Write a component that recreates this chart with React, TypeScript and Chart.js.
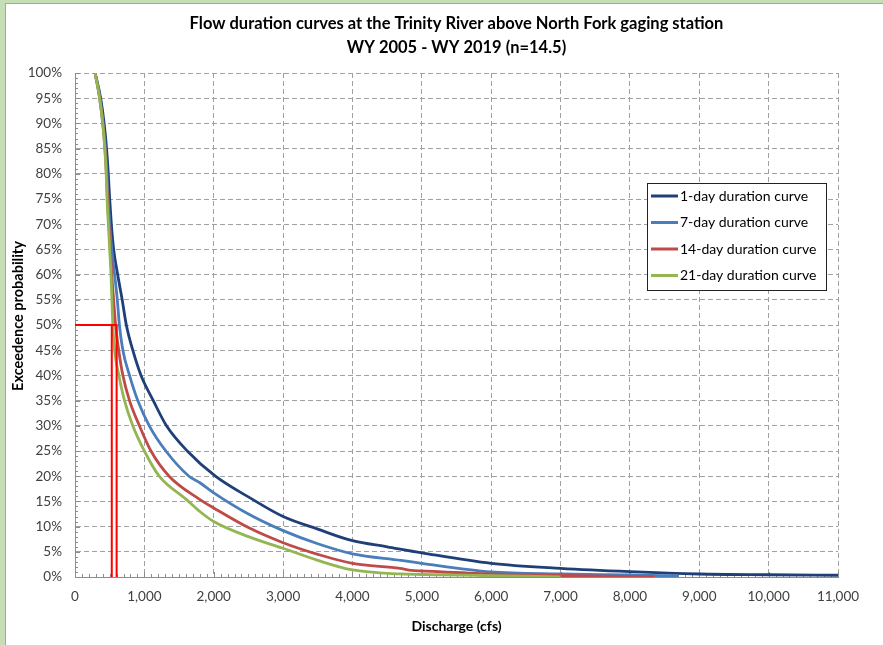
import React, { useEffect, useRef } from 'react';
import { Chart, registerables } from 'chart.js';

Chart.register(...registerables);

const TITLE_LINES = [
  'Flow duration curves at the Trinity River above North Fork gaging station',
  'WY 2005 - WY 2019 (n=14.5)',
];
const X_TITLE = 'Discharge (cfs)';
const Y_TITLE = 'Exceedence probability';
const SERIES_LABELS = ['1-day duration curve', '7-day duration curve', '14-day duration curve', '21-day duration curve'];
const SERIES_COLORS = ['#1F3F78', '#4A7EBB', '#BE4B48', '#93B652'];

const X_MIN = 0;
const X_MAX = 11000;
const X_STEP = 1000;
const X_MINOR = 100;
const Y_MIN = 0;
const Y_MAX = 100;
const Y_STEP = 5;
const Y_MINOR = 1;

// 1-day duration curve
const oneDayCfs = [290, 370, 420, 455, 480, 500, 524, 557, 615, 680, 740, 833, 952, 1129, 1319, 1619, 2024, 2548, 3000, 3500, 4000, 4500, 5000, 6000, 7000, 8000, 9000, 10000, 11000];
const oneDayPct = [100, 95, 90, 85, 80, 75, 70, 65, 60, 55, 50, 45, 40, 35, 30, 25, 20, 15.5, 12, 9.5, 7.2, 6.0, 4.8, 2.7, 1.7, 1.05, 0.6, 0.45, 0.35];

// 7-day duration curve
const sevenDayCfs = [290, 360, 405, 438, 460, 478, 500, 530, 571, 610, 640, 690, 786, 905, 1071, 1310, 1643, 1800, 2000, 2500, 3000, 3500, 4000, 4700, 5000, 6000, 7000, 8000, 8700];
const sevenDayPct = [100, 95, 90, 85, 80, 75, 70, 65, 60, 55, 50, 45, 40, 35, 30, 25, 20, 18.7, 16.7, 12.5, 9.2, 6.6, 4.6, 3.3, 2.7, 1.0, 0.6, 0.4, 0.2];

// 14-day duration curve
const fourteenDayCfs = [290, 355, 400, 432, 452, 468, 488, 510, 530, 557, 585, 630, 690, 786, 929, 1095, 1357, 1786, 2000, 2500, 3000, 3500, 4000, 4686, 4850, 5000, 6000, 7000, 8360];
const fourteenDayPct = [100, 95, 90, 85, 80, 75, 70, 65, 60, 55, 50, 45, 40, 35, 30, 25, 20, 15.5, 13.7, 9.8, 6.8, 4.5, 2.7, 1.7, 1.3, 1.2, 0.6, 0.3, 0.05];

// 21-day duration curve
const twentyOneDayCfs = [290, 355, 400, 430, 450, 462, 481, 500, 519, 532, 545, 571, 633, 714, 833, 1000, 1214, 1595, 1800, 2000, 2500, 3000, 3500, 4000, 4700, 5000, 6000, 7000];
const twentyOneDayPct = [100, 95, 90, 85, 80, 75, 70, 65, 60, 55, 50, 45, 40, 35, 30, 25, 20, 15.5, 13, 11, 8, 5.7, 3.3, 1.4, 0.6, 0.5, 0.25, 0.02];

// red median marker lines
const markerACfs = [0, 600, 600];
const markerAPct = [50, 50, 0];
const markerBCfs = [530, 530];
const markerBPct = [50, 0];

const FONT = 'Lato, "Open Sans", sans-serif';

const zip = (xs: number[], ys: number[]) => xs.map((x, i) => ({ x, y: ys[i] }));

const decorPlugin = {
  id: 'decor',
  beforeDatasetsDraw(chart: any) {
    const { ctx, chartArea, scales } = chart;
    const xs = scales.x;
    const ys = scales.y;
    ctx.save();
    ctx.strokeStyle = '#8c8c8c';
    ctx.lineWidth = 1;
    ctx.beginPath();
    for (let v = X_MIN; v <= X_MAX; v += X_MINOR) {
      const px = Math.round(xs.getPixelForValue(v)) + 0.5;
      const len = v % X_STEP === 0 ? 5 : 3;
      ctx.moveTo(px, chartArea.bottom);
      ctx.lineTo(px, chartArea.bottom - len);
    }
    for (let v = Y_MIN; v <= Y_MAX; v += Y_MINOR) {
      const py = Math.round(ys.getPixelForValue(v)) + 0.5;
      const len = v % Y_STEP === 0 ? 5 : 3;
      ctx.moveTo(chartArea.left, py);
      ctx.lineTo(chartArea.left + len, py);
    }
    ctx.stroke();
    ctx.restore();
  },
  afterDraw(chart: any) {
    const { ctx, chartArea } = chart;
    ctx.save();
    // title
    ctx.fillStyle = '#000000';
    ctx.font = `bold 16.5px ${FONT}`;
    ctx.textAlign = 'center';
    ctx.textBaseline = 'middle';
    const cx = (chartArea.left + chartArea.right) / 2;
    ctx.fillText(TITLE_LINES[0], cx, 24);
    ctx.fillText(TITLE_LINES[1], cx, 48);

    // y axis title
    ctx.save();
    ctx.translate(18, 316);
    ctx.rotate(-Math.PI / 2);
    ctx.font = `bold 14.5px ${FONT}`;
    ctx.fillText(Y_TITLE, 0, 0);
    ctx.restore();

    // legend
    const lx = 647;
    const ly = 183;
    const lw = 179;
    const lh = 107;
    ctx.fillStyle = '#ffffff';
    ctx.fillRect(lx, ly, lw, lh);
    ctx.strokeStyle = '#222222';
    ctx.lineWidth = 1;
    ctx.strokeRect(lx + 0.5, ly + 0.5, lw, lh);
    ctx.font = `14px ${FONT}`;
    ctx.textAlign = 'left';
    ctx.textBaseline = 'middle';
    SERIES_LABELS.forEach((label, i) => {
      const y = ly + 13 + i * 26.5;
      ctx.strokeStyle = SERIES_COLORS[i];
      ctx.lineWidth = 3;
      ctx.beginPath();
      ctx.moveTo(lx + 4, y);
      ctx.lineTo(lx + 31, y);
      ctx.stroke();
      ctx.fillStyle = '#000000';
      ctx.fillText(label, lx + 33, y);
    });
    ctx.restore();
  },
};

export default function App() {
  const canvasRef = useRef<HTMLCanvasElement | null>(null);

  useEffect(() => {
    let chart: Chart | null = null;
    let cancelled = false;
    const build = () => {
      if (cancelled || !canvasRef.current) return;
      const curveData = [
        zip(oneDayCfs, oneDayPct),
        zip(sevenDayCfs, sevenDayPct),
        zip(fourteenDayCfs, fourteenDayPct),
        zip(twentyOneDayCfs, twentyOneDayPct),
      ];
      const datasets: any[] = curveData.map((d, i) => ({
        label: SERIES_LABELS[i],
        data: d,
        borderColor: SERIES_COLORS[i],
        backgroundColor: SERIES_COLORS[i],
        borderWidth: 2.8,
        pointRadius: 0,
        showLine: true,
        fill: false,
        cubicInterpolationMode: 'monotone',
        order: 4 - i,
      }));
      datasets.push({
        label: 'marker A',
        data: zip(markerACfs, markerAPct),
        borderColor: '#FF0000',
        borderWidth: 2,
        pointRadius: 0,
        showLine: true,
        fill: false,
        order: 0,
      });
      datasets.push({
        label: 'marker B',
        data: zip(markerBCfs, markerBPct),
        borderColor: '#FF0000',
        borderWidth: 2,
        pointRadius: 0,
        showLine: true,
        fill: false,
        order: 0,
      });

      chart = new Chart(canvasRef.current, {
        type: 'scatter',
        data: { datasets },
        options: {
          responsive: false,
          animation: false,
          devicePixelRatio: 1,
          layout: { padding: { top: 73, right: 45, left: 0, bottom: 0 } },
          plugins: {
            legend: { display: false },
            title: { display: false },
            tooltip: { enabled: false },
          },
          scales: {
            x: {
              type: 'linear',
              min: X_MIN,
              max: X_MAX,
              afterFit: (s: any) => { s.height = 68; },
              ticks: {
                stepSize: X_STEP,
                color: '#404040',
                font: { family: FONT, size: 13.5 },
                padding: 12,
                maxRotation: 0,
                callback: (v: any) => Number(v).toLocaleString('en-US'),
              },
              grid: { color: '#a0a0a0', lineWidth: 1, drawTicks: false },
              border: { display: true, color: '#8c8c8c', width: 1, dash: [5, 3] },
              title: {
                display: true,
                text: X_TITLE,
                color: '#000000',
                font: { family: FONT, size: 14, weight: 'bold' },
                padding: { top: 4, bottom: 10 },
              },
            },
            y: {
              type: 'linear',
              min: Y_MIN,
              max: Y_MAX,
              afterFit: (s: any) => { s.width = 75; },
              ticks: {
                stepSize: Y_STEP,
                color: '#404040',
                font: { family: FONT, size: 13.5 },
                padding: 13,
                callback: (v: any) => `${v}%`,
              },
              grid: { color: '#a0a0a0', lineWidth: 1, drawTicks: false },
              border: { display: true, color: '#8c8c8c', width: 1, dash: [5, 3] },
              title: { display: false },
            },
          },
        } as any,
        plugins: [decorPlugin],
      });
    };
    const fonts: any = (document as any).fonts;
    if (fonts && fonts.load) {
      Promise.all([
        fonts.load(`13px Lato`),
        fonts.load(`bold 15px Lato`),
      ]).then(build, build);
    } else {
      build();
    }
    return () => {
      cancelled = true;
      if (chart) chart.destroy();
    };
  }, []);

  return (
    <div style={{ position: 'fixed', left: 0, top: 0, width: 883, height: 645, background: '#C6DEB6', overflow: 'hidden' }}>
      <div style={{ position: 'absolute', left: 5, top: 3, right: 0, bottom: 0, background: '#ffffff', borderLeft: '1px solid #a5a5a5', borderTop: '1px solid #a5a5a5' }} />
      <canvas ref={canvasRef} width={883} height={645} style={{ position: 'absolute', left: 0, top: 0, display: 'block' }} />
    </div>
  );
}
